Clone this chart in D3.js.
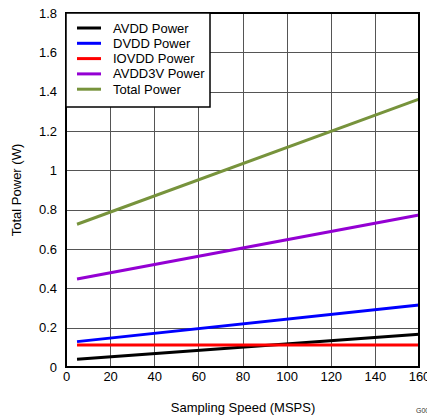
<!DOCTYPE html>
<html>
<head>
<meta charset="utf-8">
<script src="https://cdn.jsdelivr.net/npm/d3@7"></script>
<style>
  body { margin: 0; background: #fff; }
  svg { display: block; font-family: "Liberation Sans", Arial, sans-serif; }
</style>
</head>
<body>
<svg id="chart" width="427" height="415"></svg>
<script>
const speeds = [5, 160];
const avdd = [0.040, 0.167];
const dvdd = [0.129, 0.315];
const iovdd = [0.112, 0.112];
const avdd3v = [0.447, 0.773];
const total = [0.726, 1.362];
const seriesNames = ["AVDD Power", "DVDD Power", "IOVDD Power", "AVDD3V Power", "Total Power"];
const seriesColors = ["#000000", "#0000ff", "#ff0000", "#9400d3", "#77933c"];
const xTicks = [0, 20, 40, 60, 80, 100, 120, 140, 160];
const yTicks = [0, 0.2, 0.4, 0.6, 0.8, 1, 1.2, 1.4, 1.6, 1.8];

const seriesValues = [avdd, dvdd, iovdd, avdd3v, total];
const FS = 13;

const svg = d3.select("#chart");
const L = 66, R = 419, T = 13, B = 367;
const x = d3.scaleLinear().domain([0, 160]).range([L, R]);
const y = d3.scaleLinear().domain([0, 1.8]).range([B, T]);

// grid
const grid = svg.append("g");
grid.selectAll("line.v").data(xTicks).enter().append("line")
  .attr("x1", d => Math.round(x(d)) + 0.5).attr("x2", d => Math.round(x(d)) + 0.5)
  .attr("y1", T).attr("y2", B)
  .attr("stroke", "#555").attr("stroke-width", 1);
grid.selectAll("line.h").data(yTicks).enter().append("line")
  .attr("y1", d => Math.round(y(d)) + 0.5).attr("y2", d => Math.round(y(d)) + 0.5)
  .attr("x1", L).attr("x2", R)
  .attr("stroke", "#555").attr("stroke-width", 1);

// axes labels via d3 axes
const xAxis = d3.axisBottom(x).tickValues(xTicks).tickSize(0).tickPadding(5).tickFormat(d3.format("d"));
const gx = svg.append("g").attr("transform", `translate(0,${B})`).call(xAxis);
gx.select(".domain").remove();
gx.selectAll("text").attr("font-size", FS).attr("fill", "#000").attr("font-family", "Liberation Sans, Arial, sans-serif");

const yAxis = d3.axisLeft(y).tickValues(yTicks).tickSize(0).tickPadding(9).tickFormat(d => d3.format("~g")(d));
const gy = svg.append("g").attr("transform", `translate(${L},0)`).call(yAxis);
gy.select(".domain").remove();
gy.selectAll("text").attr("font-size", FS).attr("fill", "#000").attr("font-family", "Liberation Sans, Arial, sans-serif");

// lines
const line = d3.line().x((d, i) => x(speeds[i])).y(d => y(d));
svg.append("g").selectAll("path").data(seriesValues).enter().append("path")
  .attr("d", d => line(d))
  .attr("fill", "none")
  .attr("stroke", (d, i) => seriesColors[i])
  .attr("stroke-width", 3);

// frame
svg.append("rect").attr("x", L).attr("y", T).attr("width", R - L).attr("height", B - T)
  .attr("fill", "none").attr("stroke", "#000").attr("stroke-width", 2);

// legend
const lg = svg.append("g");
lg.append("rect").attr("x", L).attr("y", T).attr("width", 144).attr("height", 94)
  .attr("fill", "#fff").attr("stroke", "#000").attr("stroke-width", 1.5);
seriesNames.forEach((name, i) => {
  const yy = 28 + i * 15.3;
  lg.append("line").attr("x1", 77).attr("x2", 101).attr("y1", yy).attr("y2", yy)
    .attr("stroke", seriesColors[i]).attr("stroke-width", 3);
  lg.append("text").attr("x", 113).attr("y", yy + 4.5).attr("font-size", FS).text(name);
});

// axis titles
svg.append("text").attr("x", 243).attr("y", 412).attr("text-anchor", "middle")
  .attr("font-size", FS).text("Sampling Speed (MSPS)");
svg.append("text").attr("transform", `translate(21,${(T + B) / 2}) rotate(-90)`)
  .attr("text-anchor", "middle").attr("font-size", FS).text("Total Power (W)");
svg.append("text").attr("x", 416).attr("y", 413).attr("font-size", 7).attr("fill", "#333").text("G001");
</script>
</body>
</html>
